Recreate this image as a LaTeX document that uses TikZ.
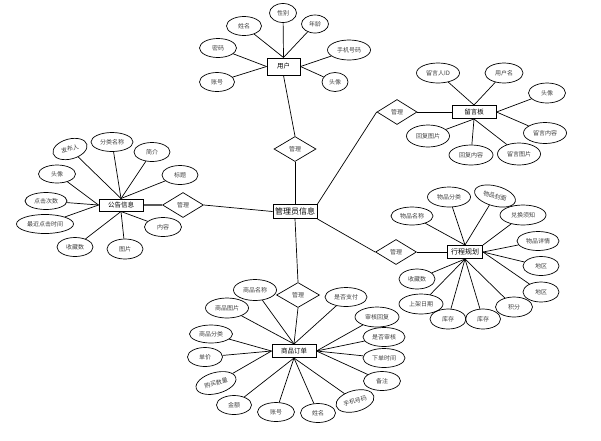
\documentclass[tikz,border=0pt]{standalone}
\usepackage{fontspec}
\setmainfont{Noto Sans CJK SC}
\usetikzlibrary{shapes.geometric, positioning}
\tikzset{
  shuxing/.style={
    ellipse, draw, line width=0.7pt, minimum width=36pt, minimum height=19pt,
    inner sep=0pt, font=\fontsize{6}{7}\selectfont, text=black!75
  },
  shuxingK/.style={shuxing, minimum width=43pt},
  shiti/.style={
    rectangle, draw, line width=1pt, fill=white, minimum width=44pt,
    minimum height=13pt, inner sep=1pt, font=\fontsize{6.5}{7}\selectfont
  },
  shitiD/.style={shiti, font=\fontsize{8}{9}\selectfont},
  guanxi/.style={
    diamond, draw, line width=0.7pt, minimum width=42pt, minimum height=25pt,
    inner sep=0pt, font=\fontsize{6}{7}\selectfont, text=black!75
  },
  xian/.style={line width=0.7pt},
}
\begin{document}
\begin{tikzpicture}[x=1pt, y=-1pt]
  \useasboundingbox (0,0) rectangle (601,440);

  % 用户
  \node[shiti, minimum width=33pt, minimum height=17pt] (yh) at (283.5,66.5) {用户};
  \node[shuxing, minimum width=35pt] (yhXingming) at (244,26) {姓名};
  \node[shuxing, minimum width=27pt] (yhXingbie) at (283,13) {性别};
  \node[shuxing, minimum width=27pt, minimum height=18pt] (yhNianling) at (315,24) {年龄};
  \node[shuxing, minimum width=37pt] (yhMima) at (218,48) {密码};
  \node[shuxingK, minimum height=20pt] (yhShouji) at (349,50) {手机号码};
  \node[shuxing, minimum width=35pt] (yhZhanghao) at (217,82) {账号};
  \node[shuxing, minimum width=26pt] (yhTouxiang) at (335,82) {头像};

  \draw[xian] (yh.north) -- (yhXingming);
  \draw[xian] (yh.north) -- (yhXingbie);
  \draw[xian] (yh.north) -- (yhNianling);
  \draw[xian] (yh.west) -- (yhMima);
  \draw[xian] (yh.west) -- (yhZhanghao);
  \draw[xian] (yh.east) -- (yhShouji);
  \draw[xian] (yh.east) -- (yhTouxiang);

  % 管理员信息 和 四个 管理
  \node[shitiD, minimum height=14pt] (admin) at (295,211.5) {管理员信息};
  \node[guanxi] (glYh) at (295,149) {管理};
  \node[guanxi, minimum width=40pt] (glLy) at (397,112) {管理};
  \node[guanxi, minimum width=41pt] (glXc) at (396,252) {管理};
  \node[guanxi, minimum width=41pt] (glGg) at (183,205) {管理};
  \node[guanxi, minimum width=43pt] (glDd) at (298,295) {管理};

  \draw[xian] (yh.south) -- (glYh.north);
  \draw[xian] (glYh.south) -- (admin.north);
  \draw[xian] (admin.north east) -- (glLy.west);
  \draw[xian] (admin.south east) -- (glXc.west);
  \draw[xian] (glGg.east) -- (admin.west);
  \draw[xian] (admin.south) -- (glDd.north);

  % 留言板
  \node[shiti] (ly) at (474,112) {留言板};
  \node[shuxingK, minimum height=20pt] (lyRen) at (438,73) {留言人ID};
  \node[shuxing, minimum width=38pt, minimum height=20pt] (lyYonghu) at (504,73) {用户名};
  \node[shuxing, minimum width=37pt, minimum height=20pt] (lyTouxiang) at (547,93) {头像};
  \node[shuxingK, minimum height=21pt] (lyNeirong) at (545,133) {留言内容};
  \node[shuxingK, minimum height=22pt] (lyTupian) at (519,154) {留言图片};
  \node[shuxingK, minimum width=44pt, minimum height=20pt] (lyHfNeirong) at (471,155) {回复内容};
  \node[shuxingK, minimum height=22pt] (lyHfTupian) at (428,136) {回复图片};

  \draw[xian] (glLy.east) -- (ly.west);
  \draw[xian] (ly.north) -- (lyRen);
  \draw[xian] (ly.north) -- (lyYonghu);
  \draw[xian] (ly.east) -- (lyTouxiang);
  \draw[xian] (ly.east) -- (lyNeirong);
  \draw[xian] (ly.south) -- (lyTupian);
  \draw[xian] (ly.south) -- (lyHfNeirong);
  \draw[xian] (ly.south) -- (lyHfTupian);

  % 行程规划
  \node[shiti, minimum width=35pt, font=\fontsize{7}{8}\selectfont] (xc) at (465,252) {行程规划};
  \node[shuxingK, minimum width=42pt, minimum height=18pt] (xcMingcheng) at (412,216) {物品名称};
  \node[shuxingK, minimum height=20pt] (xcFenlei) at (449,197) {物品分类};
  \node[shuxingK, minimum width=42pt, minimum height=20pt, rotate=-15] (xcFengmian) at (495,196) {物品封面};
  \node[shuxingK, minimum width=46pt, minimum height=20pt] (xcXuzhi) at (523,215) {兑换须知};
  \node[shuxingK, minimum width=42pt] (xcXiangqing) at (538,241) {物品详情};
  \node[shuxing] (xcDiqu) at (541,266) {地区};
  \node[shuxing, minimum height=20pt] (xcDiquB) at (541,292) {地区};
  \node[shuxing, minimum width=37pt, minimum height=20pt] (xcJifen) at (514,307) {积分};
  \node[shuxing, minimum width=35pt, minimum height=20pt] (xcKucun) at (483,319) {库存};
  \node[shuxing, minimum height=20pt] (xcKucunB) at (448,319) {库存};
  \node[shuxingK, minimum width=44pt, minimum height=20pt] (xcRiqi) at (421,304) {上架日期};
  \node[shuxing, minimum height=20pt] (xcShoucang) at (417,279) {收藏数};

  \draw[xian] (glXc.east) -- (xc.west);
  \draw[xian] (xc.north) -- (xcMingcheng);
  \draw[xian] (xc.north) -- (xcFenlei);
  \draw[xian] (xc.north) -- (xcFengmian);
  \draw[xian] (xc.north east) -- (xcXuzhi);
  \draw[xian] (xc.east) -- (xcXiangqing);
  \draw[xian] (xc.east) -- (xcDiqu);
  \draw[xian] (xc.east) -- (xcDiquB);
  \draw[xian] (xc.south) -- (xcJifen);
  \draw[xian] (xc.south) -- (xcKucun);
  \draw[xian] (xc.south) -- (xcKucunB);
  \draw[xian] (xc.south) -- (xcRiqi);
  \draw[xian] (xc.south) -- (xcShoucang);

  % 公告信息
  \node[shiti, minimum height=12pt] (gg) at (121,205) {公告信息};
  \node[shuxing, minimum width=35pt, minimum height=20pt, rotate=15] (ggFabu) at (70,149) {发布人};
  \node[shuxingK, minimum width=42pt] (ggFenlei) at (112,142) {分类名称};
  \node[shuxing] (ggJianjie) at (152,152) {简介};
  \node[shuxing] (ggBiaoti) at (180,175) {标题};
  \node[shuxing, minimum width=37pt, minimum height=18pt] (ggTouxiang) at (57,174) {头像};
  \node[shuxingK, minimum width=42pt, minimum height=17pt] (ggCishu) at (46,201) {点击次数};
  \node[shuxing, minimum width=57pt] (ggShijian) at (45,224) {最近点击时间};
  \node[shuxing] (ggShoucang) at (75,247) {收藏数};
  \node[shuxing, minimum height=20pt] (ggTupian) at (125,249) {图片};
  \node[shuxing, minimum width=37pt] (ggNeirong) at (163,227) {内容};

  \draw[line width=1.6pt, black!65] (gg.east) -- (glGg.west);
  \draw[xian] (gg.north) -- (ggFabu);
  \draw[xian] (gg.north) -- (ggFenlei);
  \draw[xian] (gg.north) -- (ggJianjie);
  \draw[xian] (gg.north) -- (ggBiaoti);
  \draw[xian] (gg.west) -- (ggTouxiang);
  \draw[xian] (gg.west) -- (ggCishu);
  \draw[xian] (gg.west) -- (ggShijian);
  \draw[xian] (gg.south) -- (ggShoucang);
  \draw[xian] (gg.south) -- (ggTupian);
  \draw[xian] (gg.south) -- (ggNeirong);

  % 商品订单
  \node[shiti] (dd) at (294,351) {商品订单};
  \node[shuxingK, minimum height=21pt] (ddMingcheng) at (255,290) {商品名称};
  \node[shuxingK, minimum height=20pt] (ddTupian) at (227,308) {商品图片};
  \node[shuxingK, minimum height=18pt] (ddFenlei) at (211,334) {商品分类};
  \node[shuxing, minimum width=35pt] (ddDanjia) at (205,357) {单价};
  \node[shuxingK, minimum width=41pt, minimum height=21pt, rotate=15] (ddShuliang) at (216,383) {购买数量};
  \node[shuxing, minimum width=35pt] (ddJine) at (234,405) {金额};
  \node[shuxing, minimum width=37pt] (ddZhanghao) at (276,412) {账号};
  \node[shuxing, minimum width=35pt] (ddXingming) at (318,413) {姓名};
  \node[shuxingK, minimum width=39pt, minimum height=21pt, rotate=15] (ddShouji) at (355,401) {手机号码};
  \node[shuxing, minimum width=37pt] (ddBeizhu) at (382,381) {备注};
  \node[shuxingK, minimum width=42pt] (ddXiadan) at (384,358) {下单时间};
  \node[shuxingK, minimum width=42pt] (ddShenhe) at (384,337) {是否审核};
  \node[shuxingK, minimum width=44pt, minimum height=20pt] (ddHuifu) at (377,317) {审核回复};
  \node[shuxingK, minimum width=42pt] (ddZhifu) at (346,297) {是否支付};

  \draw[xian] (glDd.south) -- (dd.north);
  \draw[xian] (dd.north) -- (ddMingcheng);
  \draw[xian] (dd.north) -- (ddTupian);
  \draw[xian] (dd.west) -- (ddFenlei);
  \draw[xian] (dd.west) -- (ddDanjia);
  \draw[xian] (dd.west) -- (ddShuliang);
  \draw[xian] (dd.south) -- (ddJine);
  \draw[xian] (dd.south) -- (ddZhanghao);
  \draw[xian] (dd.south) -- (ddXingming);
  \draw[xian] (dd.south) -- (ddShouji);
  \draw[xian] (dd.east) -- (ddBeizhu);
  \draw[xian] (dd.east) -- (ddXiadan);
  \draw[xian] (dd.east) -- (ddShenhe);
  \draw[xian] (dd.east) -- (ddHuifu);
  \draw[xian] (dd.north) -- (ddZhifu);
\end{tikzpicture}
\end{document}
